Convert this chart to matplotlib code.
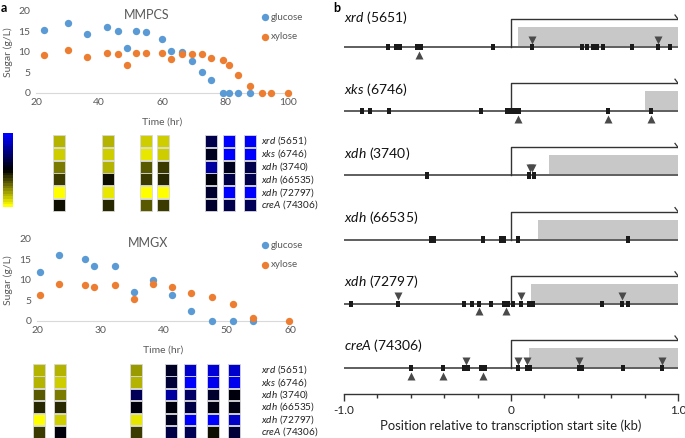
import numpy as np
import matplotlib
matplotlib.use("Agg")
import matplotlib.pyplot as plt
from matplotlib.colors import LinearSegmentedColormap, Normalize
from matplotlib.patches import Rectangle

W, H = 685, 438
plt.rcParams["font.family"] = ["Lato", "DejaVu Sans"]
plt.rcParams["mathtext.fontset"] = "custom"
plt.rcParams["mathtext.it"] = "Lato:italic"
plt.rcParams["mathtext.rm"] = "Lato"

GLC = "#5B9BD5"
XYL = "#ED7D31"
GRAY_TXT = "#595959"
DARK = "#333333"

# ---- sugar time courses (panel a) ----
mmpcs_glc_t = [22.5, 30.3, 36.1, 42.4, 46.1, 48.9, 51.7, 55.0, 60.1, 63.0, 66.2, 69.6, 72.8, 75.5, 79.3, 81.2, 84.1, 87.8]
mmpcs_glc = [15.3, 17.0, 14.3, 16.0, 15.2, 10.9, 15.2, 14.8, 13.1, 10.3, 9.9, 7.8, 5.1, 3.1, 0, 0, 0, 0]
mmpcs_xyl_t = [22.5, 30.3, 36.1, 42.4, 46.1, 48.9, 51.7, 55.0, 60.1, 63.0, 66.2, 69.6, 72.8, 75.5, 79.3, 81.2, 84.1, 87.8, 91.9, 94.5, 100.0]
mmpcs_xyl = [9.3, 10.4, 8.7, 9.8, 9.5, 6.9, 9.8, 9.8, 9.6, 8.2, 9.4, 9.4, 9.4, 8.4, 7.9, 6.7, 4.4, 1.6, 0, 0, 0]

mmgx_glc_t = [20.4, 23.5, 27.6, 29.0, 32.3, 35.4, 38.4, 41.4, 44.3, 47.7, 51.0, 54.2]
mmgx_glc = [12.0, 16.2, 15.1, 13.5, 13.5, 7.1, 10.0, 6.2, 2.4, 0, 0, 0]
mmgx_xyl_t = [20.4, 23.5, 27.6, 29.0, 32.3, 35.4, 38.4, 41.4, 44.3, 47.7, 51.0, 54.2, 59.8]
mmgx_xyl = [6.4, 9.1, 8.7, 8.2, 8.7, 5.3, 9.1, 8.3, 6.7, 5.8, 4.2, 0.6, 0]

# ---- expression heatmaps (yellow = down, blue = up) ----
genes = [r"$\it{xrd}$ (5651)", r"$\it{xks}$ (6746)", r"$\it{xdh}$ (3740)",
         r"$\it{xdh}$ (66535)", r"$\it{xdh}$ (72797)", r"$\it{creA}$ (74306)"]
heat_mmpcs = [
    [-0.70, -0.70, -0.80, -0.80, 0.30, 1.00, 0.97],
    [-0.80, -0.80, -0.90, -0.80, 0.12, 1.00, 1.00],
    [-0.48, -0.70, -0.35, -0.23, 0.63, 0.12, 0.30],
    [-0.23, -0.06, -0.23, -0.15, 0.05, 0.28, 0.30],
    [-1.00, -0.90, -1.00, -1.00, 0.18, 1.00, 1.00],
    [-0.06, -0.15, -0.35, -0.23, 0.18, 0.30, 0.35],
]
heat_mmgx = [
    [-0.70, -0.70, -0.60, 0.15, 0.80, 0.85, 0.80],
    [-0.70, -0.80, -0.70, 0.22, 1.00, 0.93, 0.93],
    [-0.35, -0.48, 0.35, 0.63, 0.40, 0.18, 0.05],
    [-0.15, -0.16, 0.05, 0.05, 0.28, 0.07, 0.07],
    [-1.00, -0.80, -0.90, 0.13, 1.00, 1.00, 0.78],
    [-0.23, 0.05, -0.23, 0.28, 0.33, -0.06, 0.22],
]

# ---- promoter motifs (panel b), positions in kb ----
track_names = [r"$\it{xrd}$ (5651)", r"$\it{xks}$ (6746)", r"$\it{xdh}$ (3740)",
               r"$\it{xdh}$ (66535)", r"$\it{xdh}$ (72797)", r"$\it{creA}$ (74306)"]
cds_start = [0.04, 0.80, 0.23, 0.16, 0.12, 0.11]
sites = [
    [-0.735, -0.69, -0.665, -0.56, -0.54, -0.106, 0.124, 0.423, 0.453, 0.492, 0.512, 0.553, 0.723, 0.882, 0.952],
    [-0.890, -0.844, -0.729, -0.181, -0.025, -0.005, 0.015, 0.035, 0.045, 0.583, 0.838],
    [-0.501, 0.105, 0.135],
    [-0.48, -0.462, -0.168, -0.062, -0.042, 0.044, 0.699],
    [-0.960, -0.677, -0.281, -0.232, -0.192, -0.122, -0.04, -0.02, 0.010, 0.058, 0.11, 0.13, 0.547, 0.665, 0.699],
    [-0.601, -0.405, -0.279, -0.259, -0.178, -0.158, 0.040, 0.094, 0.114, 0.407, 0.427, 0.671, 0.904],
]
sites_below = [[-0.549], [0.04, 0.583, 0.838], [], [], [-0.192, -0.030], [-0.601, -0.405, -0.168]]
sites_above = [[0.124, 0.882], [], [0.115, 0.125], [], [-0.677, 0.058, 0.665],
               [-0.269, 0.040, 0.098, 0.407, 0.904]]

cmap = LinearSegmentedColormap.from_list("yb", ["#FFFF00", "#000000", "#0000FF"])
norm = Normalize(-1, 1)


def px_axes(fig, x0, y0, x1, y1, **kw):
    return fig.add_axes([x0 / W, 1 - y1 / H, (x1 - x0) / W, (y1 - y0) / H], **kw)


def sugar_panel(ax, tg, g, tx, x, xlim, xticks, title, leg_y):
    ax.scatter(tg, g, s=28, color=GLC, linewidths=0, clip_on=False, zorder=3, label="glucose")
    ax.scatter(tx, x, s=28, color=XYL, linewidths=0, clip_on=False, zorder=4, label="xylose")
    ax.set_xlim(*xlim)
    ax.set_ylim(0, 20)
    ax.set_xticks(xticks)
    ax.set_yticks([0, 5, 10, 15, 20])
    for s in ["top", "right", "left"]:
        ax.spines[s].set_visible(False)
    ax.spines["bottom"].set_color("#D9D9D9")
    ax.tick_params(length=0, labelsize=7.5, labelcolor=GRAY_TXT, pad=4)
    ax.text(-0.112, 0.5, "Sugar (g/L)", transform=ax.transAxes, rotation=90,
            ha="center", va="center", fontsize=7.5, color=GRAY_TXT)
    ax.text(0.5, -0.36, "Time (hr)", transform=ax.transAxes, ha="center", va="center",
            fontsize=7.5, color=GRAY_TXT)
    ax.text(0.44, 0.95, title, transform=ax.transAxes, ha="center", va="center",
            fontsize=9, color=GRAY_TXT)
    ax.legend(loc="upper left", bbox_to_anchor=(254 / W, 1 - leg_y / H),
              bbox_transform=ax.figure.transFigure, frameon=False, fontsize=7,
              handletextpad=0.0, labelspacing=1.05, borderpad=0, handlelength=1.2,
              labelcolor=GRAY_TXT)


def heatmap(ax, vals, col_left, top, row_step, cell_w, cell_h, labels=True):
    vals = np.asarray(vals)
    for i in range(vals.shape[0]):
        for j, xl in enumerate(col_left):
            ax.add_patch(Rectangle((xl, top + i * row_step), cell_w, cell_h,
                                   facecolor=cmap(norm(vals[i, j])), edgecolor="#D8D8D8", lw=0.6))
        if labels:
            ax.text(261, top + i * row_step + cell_h / 2, genes[i], fontsize=7.2,
                    ha="left", va="center", color="#222222")


fig = plt.figure(figsize=(W / 100, H / 100), dpi=100)

# overlay for heatmaps, colour bar and panel letters
ov = px_axes(fig, 0, 0, W, H)
ov.set_xlim(0, W)
ov.set_ylim(H, 0)
ov.axis("off")

ax1 = px_axes(fig, 36, 11, 288, 92.7)
sugar_panel(ax1, mmpcs_glc_t, mmpcs_glc, mmpcs_xyl_t, mmpcs_xyl, (20, 100),
            [20, 40, 60, 80, 100], "MMPCS", 8)

ax2 = px_axes(fig, 37, 239, 290, 320.7)
sugar_panel(ax2, mmgx_glc_t, mmgx_glc, mmgx_xyl_t, mmgx_xyl, (20, 60),
            [20, 30, 40, 50, 60], "MMGX", 236)

grad = np.linspace(1, -1, 28)[:, None]
ov.imshow(grad, cmap=cmap, norm=norm, extent=(3, 13, 207, 133), aspect="auto",
          interpolation="nearest", origin="upper")
heatmap(ov, heat_mmpcs, [53, 102, 140, 157, 205, 223, 244], 135, 12.8, 12, 12)
heatmap(ov, heat_mmgx, [33, 54, 130, 165, 184, 207, 228], 364, 12.4, 12, 11.6)

ov.text(1, 8, "a", fontsize=9, fontweight="bold", va="center", ha="left")
ov.text(333, 8, "b", fontsize=9, fontweight="bold", va="center", ha="left")

# ---- panel b ----
axb = px_axes(fig, 344, 0, 678, 394)
axb.set_xlim(-1, 1)
axb.set_ylim(394, 0)
for s in ["top", "right", "left"]:
    axb.spines[s].set_visible(False)
axb.spines["bottom"].set_color(DARK)
axb.spines["bottom"].set_linewidth(1.0)
axb.set_yticks([])
axb.set_xticks([-1, 0, 1])
axb.set_xticklabels(["-1.0", "0", "1.0"])
axb.set_xticks(np.arange(-0.8, 1.0, 0.2), minor=True)
axb.tick_params(axis="x", which="major", length=5, width=1, color=DARK, labelsize=8.5,
                labelcolor="#222222", pad=3)
axb.tick_params(axis="x", which="minor", length=3, width=1, color=DARK)
axb.text(0, 426, "Position relative to transcription start site (kb)", ha="center",
         va="center", fontsize=9.4, color="#222222")

sq_w, sq_h = 0.024, 6.5
for k, name in enumerate(track_names):
    b = 47 + k * 64.2
    label_off = 30 if k == 0 else 22
    axb.text(-1, b - label_off, name, fontsize=10, ha="left", va="center", color="#111111")
    axb.add_patch(Rectangle((cds_start[k], b - 20), 1 - cds_start[k], 19,
                            facecolor="#C8C8C8", edgecolor="none", zorder=1))
    axb.plot([-1, 1], [b, b], color=DARK, lw=1.1, zorder=2)
    axb.plot([0, 0, 1], [b, b - 28, b - 28], color=DARK, lw=1.0, zorder=2)
    axb.plot([0.982, 1.0], [b - 32, b - 28], color=DARK, lw=0.9, zorder=2)
    for p in sites[k]:
        axb.add_patch(Rectangle((p - sq_w / 2, b - sq_h / 2), sq_w, sq_h,
                                facecolor="#1A1A1A", edgecolor="none", zorder=3))
    if sites_above[k]:
        axb.plot(sites_above[k], [b - 7.5] * len(sites_above[k]), "v", ms=5.2,
                 color="#4A4A4A", mec="none", zorder=3, clip_on=False)
    if sites_below[k]:
        axb.plot(sites_below[k], [b + 7.5] * len(sites_below[k]), "^", ms=5.2,
                 color="#4A4A4A", mec="none", zorder=3, clip_on=False)

fig.savefig("out.png", dpi=100)
